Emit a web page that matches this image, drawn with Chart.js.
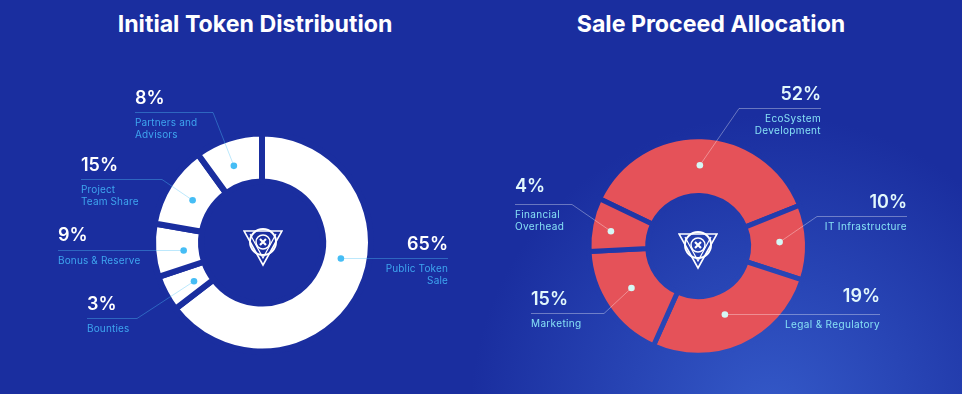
<!DOCTYPE html>
<html lang="en">
<head>
  <meta charset="UTF-8">
  <title>Token Distribution</title>
  <script src="https://cdn.jsdelivr.net/npm/chart.js"></script>
  <style>
    html, body { margin: 0; padding: 0; }
    body {
      width: 962px; height: 394px; overflow: hidden; position: relative;
      font-family: Inter, sans-serif; color: #fff;
      background: radial-gradient(circle 300px at 770px 415px, #3459c8 0%, #1a2e9f 100%);
    }
    canvas { position: absolute; top: 0; }
    h1 { position: absolute; top: 10px; margin: 0; font-size: 23.2px; font-weight: 700; white-space: nowrap; transform: translateX(-50%); }
    .pct { position: absolute; font-size: 18px; font-weight: 600; line-height: 22px; white-space: nowrap; }
    .lbl { position: absolute; font-size: 10px; line-height: 11.5px; white-space: nowrap; }
    .logo { position: absolute; width: 40px; height: 40px; }
  </style>
</head>
<body>
  <h1 style="left:255px">Initial Token Distribution</h1>
  <h1 style="left:711px">Sale Proceed Allocation</h1>
  <canvas id="tokenChart" width="481" height="394" style="left:0"></canvas>
  <canvas id="saleChart" width="481" height="394" style="left:481px"></canvas>

  <script>
    // ================= DATA =================
    // Printed percentages, and the arc sizes
    // (the drawn slices are not to scale with their printed numbers)
    const tokenLabels = ["Public Token\nSale", "Bounties", "Bonus & Reserve", "Project\nTeam Share", "Partners and\nAdvisors"];
    const tokenPercents = [65, 3, 9, 15, 8];
    const tokenArcs = [64.6, 5.3, 7.9, 12.2, 10];

    const saleLabels = ["EcoSystem\nDevelopment", "IT Infrastructure", "Legal & Regulatory", "Marketing", "Financial\nOverhead"];
    const salePercents = [52, 10, 19, 15, 4];
    const saleArcs = [36.8, 11.1, 26.7, 17.5, 7.9];

    // ================= CALLOUT LAYOUT =================
    // x = text edge, y = rule height, elbow = x where the rule bends, along/across = dot place inside its arc
    // rise = extra lift of the percent above the rule
    const tokenCallouts = [
      { x: 448, y: 258, align: "right", along: 0.435, across: 0.39 },
      { x: 87, y: 318, elbow: 137, align: "left", along: 0.405, across: 0.34 },
      { x: 58, y: 250, align: "left", along: 0.447, across: 0.35, rise: 1 },
      { x: 81, y: 179, elbow: 162, align: "left", along: 0.484, across: 0.41 },
      { x: 135, y: 112, elbow: 213, align: "left", along: 0.44, across: 0.42 }
    ];
    const saleCallouts = [
      { x: 821, y: 108, elbow: 739, align: "right", along: 0.495, across: 0.515 },
      { x: 907, y: 216, elbow: 817, align: "right", along: 0.48, across: 0.53 },
      { x: 880, y: 314, align: "right", along: 0.527, across: 0.38, rise: 4 },
      { x: 531, y: 313, elbow: 604, align: "left", along: 0.535, across: 0.48 },
      { x: 515, y: 204, elbow: 572, align: "left", along: 0.437, across: 0.66, rise: 4 }
    ];

    // ================= LEADER LINES AND DOTS =================
    const calloutPlugin = {
      id: "callouts",
      afterDatasetsDraw(chart, args, opts) {
        const ctx = chart.ctx;
        chart.getDatasetMeta(0).data.forEach((arc, i) => {
          const c = opts.items[i];
          const p = arc.getProps(["x", "y", "startAngle", "endAngle", "innerRadius", "outerRadius"], true);
          const angle = p.startAngle + c.along * (p.endAngle - p.startAngle);
          // the slice border eats half its width off each edge of the ring
          const inner = p.innerRadius + opts.gap / 2;
          const outer = p.outerRadius - opts.gap / 2;
          const rad = inner + c.across * (outer - inner);
          const dotX = p.x + rad * Math.cos(angle);
          const dotY = c.elbow !== undefined ? p.y + rad * Math.sin(angle) : c.y + 0.5;

          ctx.save();
          ctx.strokeStyle = opts.lineColor;
          ctx.lineWidth = 1;
          ctx.beginPath();
          ctx.moveTo(c.x - opts.left, c.y + 0.5);
          if (c.elbow !== undefined) ctx.lineTo(c.elbow - opts.left, c.y + 0.5);
          ctx.lineTo(dotX, dotY);
          ctx.stroke();
          ctx.fillStyle = opts.dotColor;
          ctx.beginPath();
          ctx.arc(dotX, dotY, 3.3, 0, Math.PI * 2);
          ctx.fill();
          ctx.restore();
        });
      }
    };

    // ================= CHARTS =================
    // Same glow as the page background, so the slice borders read as gaps
    function gapColor(context, left) {
      const g = context.chart.ctx.createRadialGradient(770 - left, 415, 0, 770 - left, 415, 300);
      g.addColorStop(0, "#3459c8");
      g.addColorStop(1, "#1a2e9f");
      return g;
    }

    function makeChart(id, arcs, labels, color, rotation, padding, cutout, gap, callouts, left, lineColor, dotColor) {
      return new Chart(document.getElementById(id), {
        type: "doughnut",
        data: {
          labels: labels.map(l => l.replace("\n", " ")),
          datasets: [{
            data: arcs,
            backgroundColor: color,
            borderWidth: gap,
            borderColor: context => gapColor(context, left)
          }]
        },
        options: {
          responsive: false,
          animation: false,
          rotation: rotation,
          cutout: cutout,
          layout: { padding: padding },
          plugins: {
            legend: { display: false },
            tooltip: { enabled: false },
            callouts: { items: callouts, left: left, gap: gap, lineColor: lineColor, dotColor: dotColor }
          }
        },
        plugins: [calloutPlugin]
      });
    }

    makeChart("tokenChart", tokenArcs, tokenLabels, "#ffffff", 0,
      { left: 150, right: 107, top: 130.5, bottom: 39.5 }, "56%", 6,
      tokenCallouts, 0, "rgba(79,195,247,0.38)", "#45bdf5");
    makeChart("saleChart", saleArcs, saleLabels, "#e55259", 295.6,
      { left: 105.4, right: 152, top: 134.2, bottom: 36.2 }, "46.2%", 5,
      saleCallouts, 481, "rgba(255,255,255,0.35)", "#d5f8f5");

    // ================= TEXT =================
    function addText(labels, percents, callouts, pctColor, color, tracking) {
      labels.forEach((label, i) => {
        const c = callouts[i];
        const side = c.align === "right" ? "right:" + (962 - c.x) + "px;text-align:right" : "left:" + c.x + "px";
        const pct = document.createElement("div");
        pct.className = "pct";
        pct.style.cssText = side + ";top:" + (c.y - 25 - (c.rise || 0)) + "px;color:" + pctColor;
        pct.textContent = percents[i] + "%";
        document.body.appendChild(pct);
        label.split("\n").forEach((line, n) => {
          const d = document.createElement("div");
          d.className = "lbl";
          d.style.cssText = side + ";top:" + (c.y + 5 + n * 11.5) + "px;color:" + color + ";letter-spacing:" + tracking + "px";
          d.textContent = line;
          document.body.appendChild(d);
        });
      });
    }
    addText(tokenLabels, tokenPercents, tokenCallouts, "#ffffff", "#3ea5ef", 0.15);
    addText(saleLabels, salePercents, saleCallouts, "#e2f8fc", "#86e0f5", 0.35);

    // ================= CENTER LOGO =================
    function addLogo(x, y) {
      const wrap = document.createElement("div");
      wrap.innerHTML = '<svg class="logo" style="left:' + x + 'px;top:' + y + 'px" viewBox="0 0 40 40" fill="none" stroke="#fff">' +
        '<path d="M1 4 H39 L20 38 Z" stroke-width="1.6"/>' +
        '<path d="M7 7 L20 31 L33 7" stroke-width="1.2"/>' +
        '<circle cx="20" cy="15" r="13" stroke-width="2"/>' +
        '<circle cx="20" cy="15" r="7" stroke-width="1.5"/>' +
        '<path d="M17 12 L23 18 M23 12 L17 18" stroke-width="2.2"/>' +
        '</svg>';
      document.body.appendChild(wrap);
    }
    addLogo(243, 227);
    addLogo(678, 230);
  </script>
</body>
</html>
